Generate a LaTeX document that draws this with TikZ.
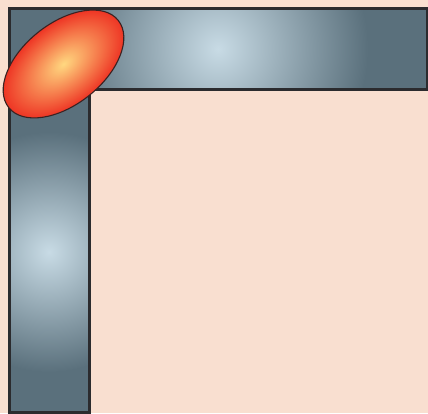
\documentclass[tikz,border=0pt]{standalone}
\usetikzlibrary{shadings}
\definecolor{bgpeach}{HTML}{F9DFD0}
\definecolor{barin}{HTML}{C8DBE5}
\definecolor{barout}{HTML}{5A707C}
\definecolor{barline}{HTML}{2B2B2E}
\definecolor{elin}{HTML}{FFD880}
\definecolor{elout}{HTML}{EE3524}
\definecolor{elline}{HTML}{3A2222}
\pgfdeclareradialshading{ballshade}{\pgfpoint{0bp}{0bp}}{color(0bp)=(elin); color(25bp)=(elout); color(50bp)=(elout)}
\tikzset{
  barglow/.style={inner color=barin, outer color=barout},
  barframe/.style={draw=barline, line width=3pt},
  ballbox/.style={shading=ballshade, draw=elline, line width=1.1pt}
}
\begin{document}
\begin{tikzpicture}[x=1pt,y=1pt]
\useasboundingbox (0,0) rectangle (428,413);
\fill[bgpeach] (0,0) rectangle (428,413);
% vertical bar
\fill[barout] (9,323.5) rectangle (89.5,0.5);
\begin{scope}
  \clip (9,323.5) rectangle (89.5,0.5);
  \shade[barglow] (49,161) circle (120);
\end{scope}
\draw[barframe] (9,323.5) rectangle (89.5,0.5);
% horizontal bar
\fill[barout] (9,404) rectangle (427,323.5);
\begin{scope}
  \clip (9,404) rectangle (427,323.5);
  \shade[barglow] (218,364) circle (150);
\end{scope}
\draw[barframe] (9,404) rectangle (427,323.5);
% ellipse
\shadedraw[ballbox, transform canvas={shift={(63.5,349)},rotate=38.5}] (0,0) ellipse [x radius=70, y radius=40.6];
\end{tikzpicture}
\end{document}
